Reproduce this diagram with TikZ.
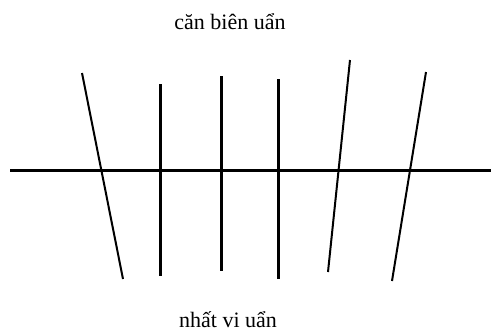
\documentclass[tikz,border=0pt]{standalone}
\usepackage{fontspec}
\setmainfont{Liberation Serif}
\usepackage{tikz}
\usetikzlibrary{positioning}

\begin{document}
\begin{tikzpicture}[x=1pt, y=-1pt,
    nhan/.style={font=\fontsize{22}{26}\selectfont, inner sep=0pt},
    vach/.style={line width=3pt},
    xien/.style={line width=2pt}]
  \useasboundingbox (0,0) rectangle (491,335);

  % Truc ngang
  \draw[vach] (10,170) -- (491,170);

  % Vach dung
  \foreach \x/\ya/\yb in {160/84/276, 221/76/271, 278/79/279}{
    \draw[vach] (\x,\ya) -- (\x,\yb);
  }

  % Vach xien
  \foreach \xa/\ya/\xb/\yb in {82/73/123/279, 350/60/328/272, 426/72/392/281}{
    \draw[xien] (\xa,\ya) -- (\xb,\yb);
  }

  % Nhan tren va duoi
  \node[nhan] (canbien) at (230,22) {căn biên uẩn};
  \node[nhan] (nhatvi) at (228,320) {nhất vi uẩn};
\end{tikzpicture}
\end{document}
